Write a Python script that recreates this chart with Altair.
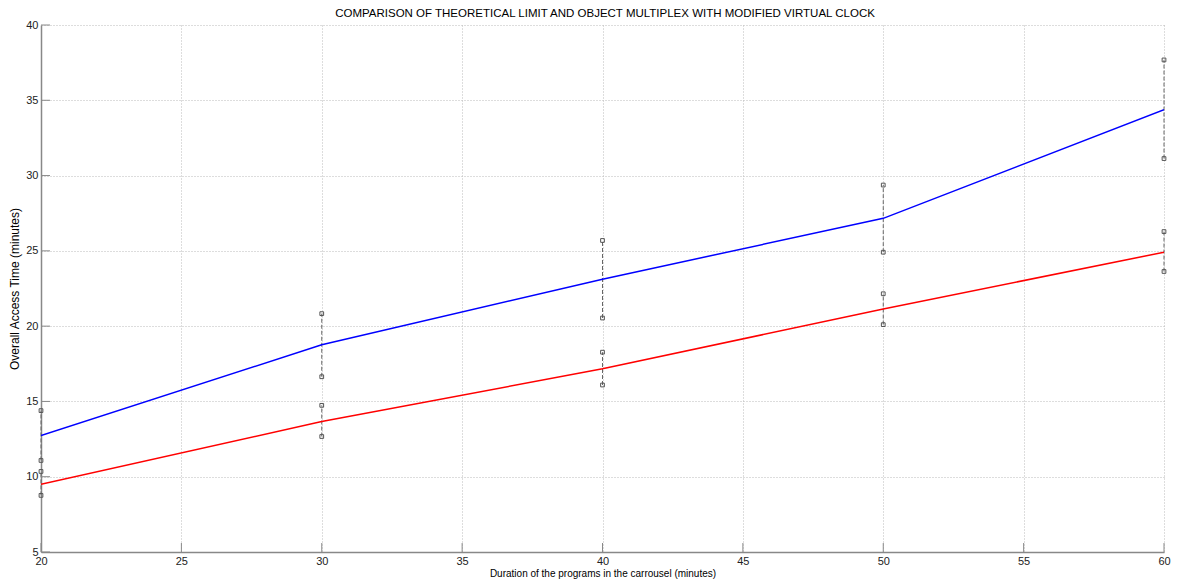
import altair as alt
import pandas as pd

durations = [20, 30, 40, 50, 60]
blue_mean = [12.73, 18.76, 23.12, 27.16, 34.37]
red_mean = [9.5, 13.66, 17.17, 21.14, 24.91]
blue_hi = [14.39, 20.83, 25.69, 29.37, 37.68]
blue_lo = [11.08, 16.64, 20.54, 24.91, 31.13]
red_hi = [10.35, 14.74, 18.27, 22.15, 26.28]
red_lo = [8.76, 12.67, 16.09, 20.10, 23.63]
x_ticks = [20, 25, 30, 35, 40, 45, 50, 55, 60]
y_ticks = [5, 10, 15, 20, 25, 30, 35, 40]
title_text = ["COMPARISON OF THEORETICAL LIMIT AND OBJECT MULTIPLEX WITH MODIFIED VIRTUAL CLOCK"]

FONT = "Liberation Sans"
W, H = 1123, 527

lines = pd.DataFrame(
    [{"x": d, "y": v, "s": "Object multiplex"} for d, v in zip(durations, blue_mean)]
    + [{"x": d, "y": v, "s": "Theoretical limit"} for d, v in zip(durations, red_mean)]
)
bars = pd.DataFrame(
    [{"x": d, "lo": lo, "hi": hi} for d, lo, hi in zip(durations, blue_lo, blue_hi)]
    + [{"x": d, "lo": lo, "hi": hi} for d, lo, hi in zip(durations, red_lo, red_hi)]
)
pts = pd.DataFrame(
    [{"x": d, "y": v} for d, v in zip(durations, blue_hi)]
    + [{"x": d, "y": v} for d, v in zip(durations, blue_lo)]
    + [{"x": d, "y": v} for d, v in zip(durations, red_hi)]
    + [{"x": d, "y": v} for d, v in zip(durations, red_lo)]
)
xt = pd.DataFrame({"x": x_ticks})
yt = pd.DataFrame({"y": y_ticks})
tt = pd.DataFrame({"t": title_text})

xscale = alt.Scale(domain=[20, 60], nice=False, zero=False)
yscale = alt.Scale(domain=[5, 40], nice=False, zero=False)

xaxis = alt.Axis(values=x_ticks, title="Duration of the programs in the carrousel (minutes)",
                 grid=True, labelFlush=False, tickSize=0, labelPadding=3, titlePadding=2,
                 titleFontSize=10)
yaxis = alt.Axis(values=y_ticks, title="Overall Access Time (minutes)",
                 grid=True, labelFlush=False, tickSize=0, labelPadding=3, titlePadding=4,
                 titleFontSize=12)

base_lines = alt.Chart(lines).mark_line(strokeWidth=1.5, clip=True).encode(
    x=alt.X("x:Q", scale=xscale, axis=xaxis),
    y=alt.Y("y:Q", scale=yscale, axis=yaxis),
    color=alt.Color("s:N", scale=alt.Scale(domain=["Object multiplex", "Theoretical limit"],
                                           range=["#0000ff", "#ff0000"]), legend=None),
)

err = alt.Chart(bars).mark_rule(color="#666666", strokeDash=[4, 2], strokeWidth=1).encode(
    x="x:Q", y="lo:Q", y2="hi:Q"
)

marks = alt.Chart(pts).mark_point(shape="square", filled=False, size=14, color="#555555",
                                  strokeWidth=1, opacity=1).encode(
    x="x:Q", y="y:Q"
)

ytick_marks = alt.Chart(yt).mark_rule(color="#888888", strokeWidth=1).encode(
    y="y:Q", x=alt.value(0), x2=alt.value(9)
)
xtick_marks = alt.Chart(xt).mark_rule(color="#888888", strokeWidth=1).encode(
    x="x:Q", y=alt.value(H), y2=alt.value(H - 9)
)

title_mark = alt.Chart(tt).mark_text(font=FONT, fontSize=11.5, color="#000000",
                                     align="center", baseline="middle").encode(
    text="t:N", x=alt.value(564), y=alt.value(-11)
)

chart = alt.layer(err, ytick_marks, xtick_marks, base_lines, marks, title_mark).properties(
    width=W, height=H,
    autosize="none",
    padding={"left": 33, "top": 17, "right": 7, "bottom": 27},
).configure_view(stroke=None).configure_axis(
    labelFont=FONT, titleFont=FONT, labelFontSize=11,
    titleFontWeight="normal", labelColor="#222222", titleColor="#000000",
    domainColor="#888888", domainWidth=1.5,
    gridColor="#bbbbbb", gridDash=[1, 2], gridWidth=1,
)

chart.save("out.html", embed_options={"renderer": "svg", "actions": False})
